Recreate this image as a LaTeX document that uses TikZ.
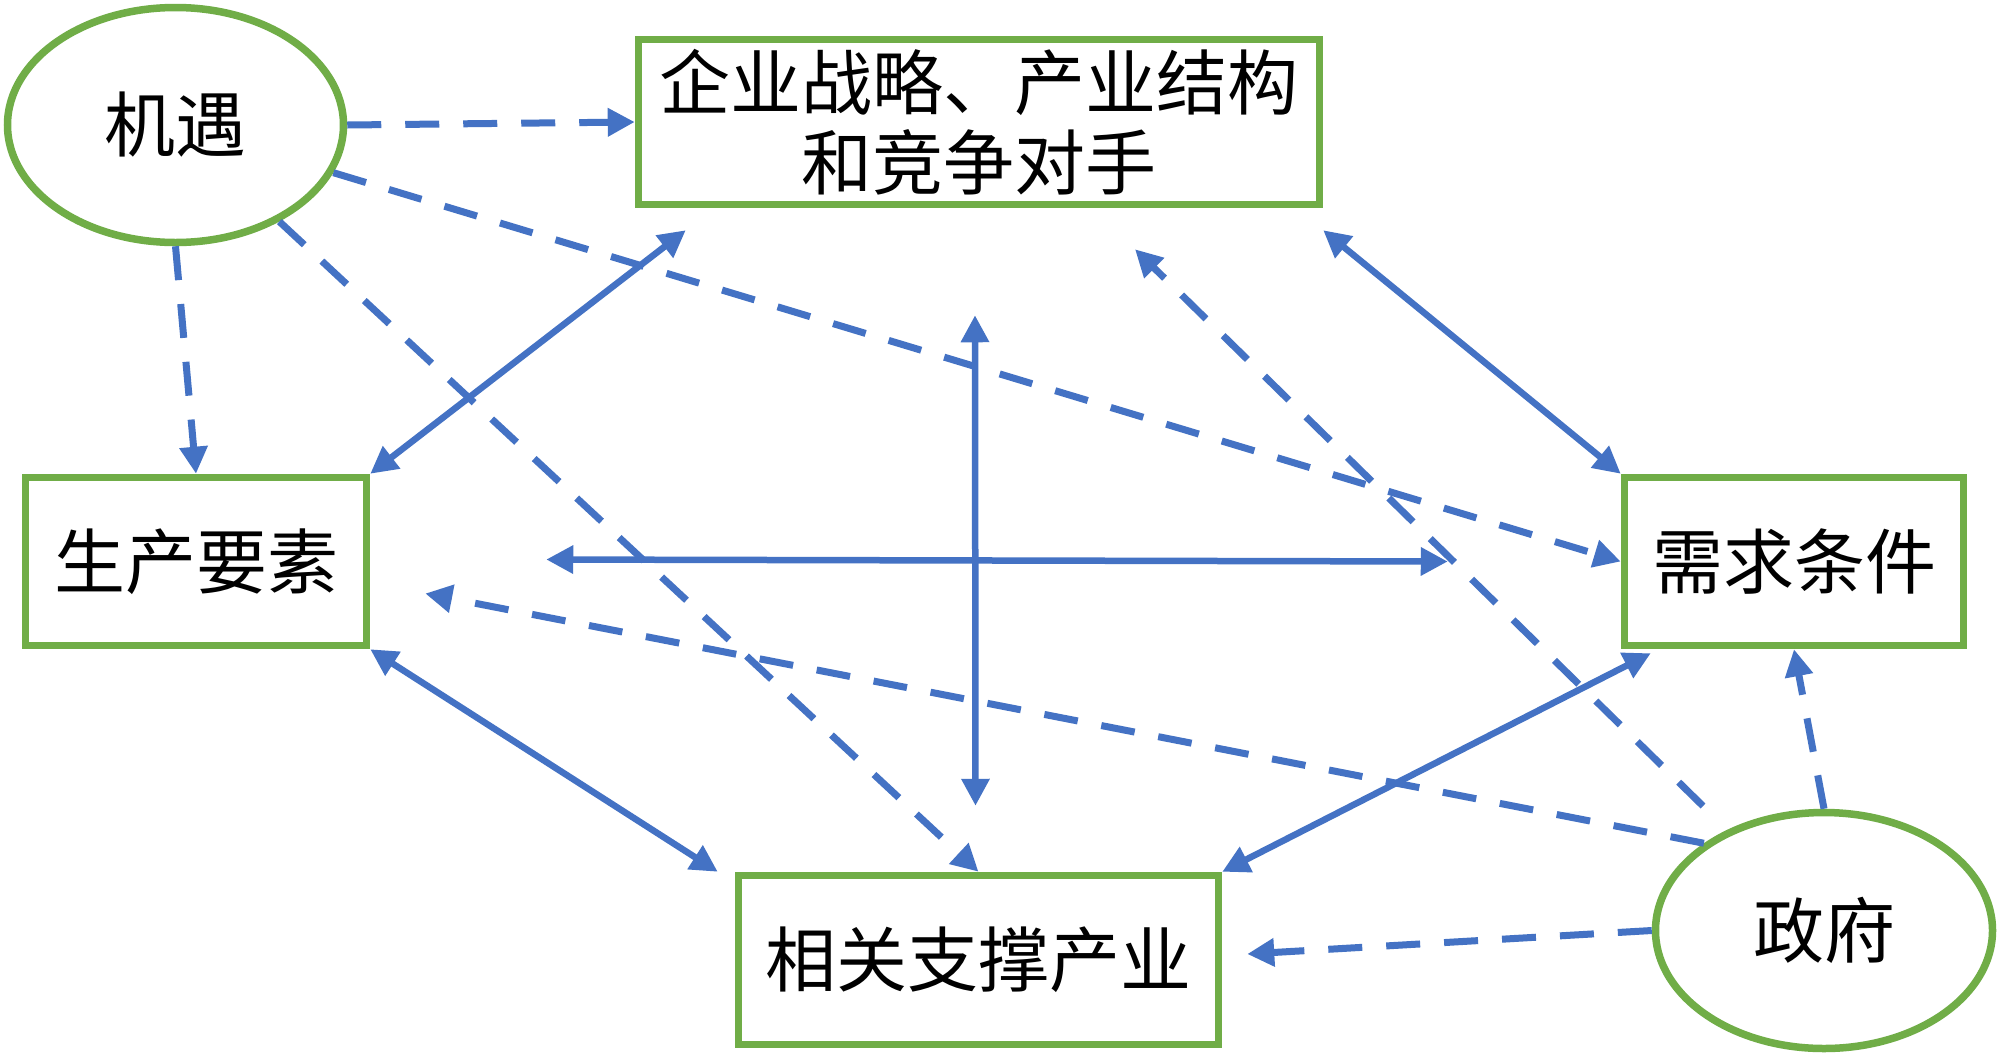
\documentclass[tikz,border=0pt]{standalone}
\usepackage{fontspec}
\newfontfamily\cjk{Noto Sans CJK SC}
\usetikzlibrary{arrows.meta,calc,shapes.geometric}
\definecolor{linkblue}{RGB}{68,114,196}
\definecolor{boxgreen}{RGB}{112,173,71}
\begin{document}
\begin{tikzpicture}[x=1pt,y=-1pt,
  box/.style={draw=boxgreen,line width=7.5pt,fill=white,rectangle,inner sep=0pt,align=center,
    font=\cjk\fontsize{71}{80}\selectfont},
  oval/.style={draw=boxgreen,line width=7.5pt,fill=white,ellipse,inner sep=0pt,
    font=\cjk\fontsize{71}{80}\selectfont},
  solidlink/.style={draw=linkblue,line width=6.5pt,
    {Triangle[length=27pt,width=27pt]}-{Triangle[length=27pt,width=27pt]}},
  dashlink/.style={draw=linkblue,line width=7pt,dash pattern=on 34pt off 24pt,
    -{Triangle[length=27pt,width=27pt]}}]
\useasboundingbox (0,0) rectangle (2000,1053);
\fill[white] (0,0) rectangle (2000,1053);
% nodes
\node[oval,minimum width=336pt,minimum height=235pt] (jy) at (175.5,125) {机遇};
\node[oval,minimum width=337pt,minimum height=236pt] (zf) at (1824,930.5) {政府};
\node[box,minimum width=681pt,minimum height=165pt] (qy) at (979,122) {企业战略、产业结构\\和竞争对手};
\node[box,minimum width=341pt,minimum height=168pt] (sc) at (196,561.5) {生产要素};
\node[box,minimum width=339pt,minimum height=168pt] (xq) at (1794,561.5) {需求条件};
\node[box,minimum width=480pt,minimum height=169pt] (xg) at (978.5,960) {相关支撑产业};
% free ends
\coordinate (p5) at ($(qy.south west)+(51,22)$);
\coordinate (p6) at ($(qy.south east)+(0,22)$);
\coordinate (p7) at ($(xg.north west)+(-17,0)$);
\coordinate (p8) at ($(xq.south west)+(30,4)$);
\coordinate (v1) at ($(qy.south)+(-4,107)$);
\coordinate (v2) at ($(xg.north)+(-3,-66)$);
\coordinate (h1) at ($(sc.east)+(176,-2)$);
\coordinate (h2) at ($(xq.west)+(-173,0)$);
\coordinate (g1) at (1703,806);
\coordinate (g2) at ($(qy.south)+(156,41)$);
\coordinate (g3) at ($(sc.east)+(55,32)$);
\coordinate (g4) at ($(xg.east)+(25,-6)$);
% dashed links
\draw[dashlink] (jy.east) -- (qy.west);
\draw[dashlink] (jy.south) -- (sc.north);
\draw[dashlink] (jy) -- (xq.west);
\draw[dashlink] (jy) -- (xg.north);
\draw[dashlink] (g1) -- (g2);
\draw[dashlink] (zf.144) -- (g3);
\draw[dashlink] (zf.west) -- (g4);
\draw[dashlink] (zf.north) -- (xq.south);
% solid links
\draw[solidlink] (sc.north east) -- (p5);
\draw[solidlink] (p6) -- (xq.north west);
\draw[solidlink] (sc.south east) -- (p7);
\draw[solidlink] (p8) -- (xg.north east);
\draw[solidlink] (v1) -- (v2);
\draw[solidlink] (h1) -- (h2);
\end{tikzpicture}
\end{document}
